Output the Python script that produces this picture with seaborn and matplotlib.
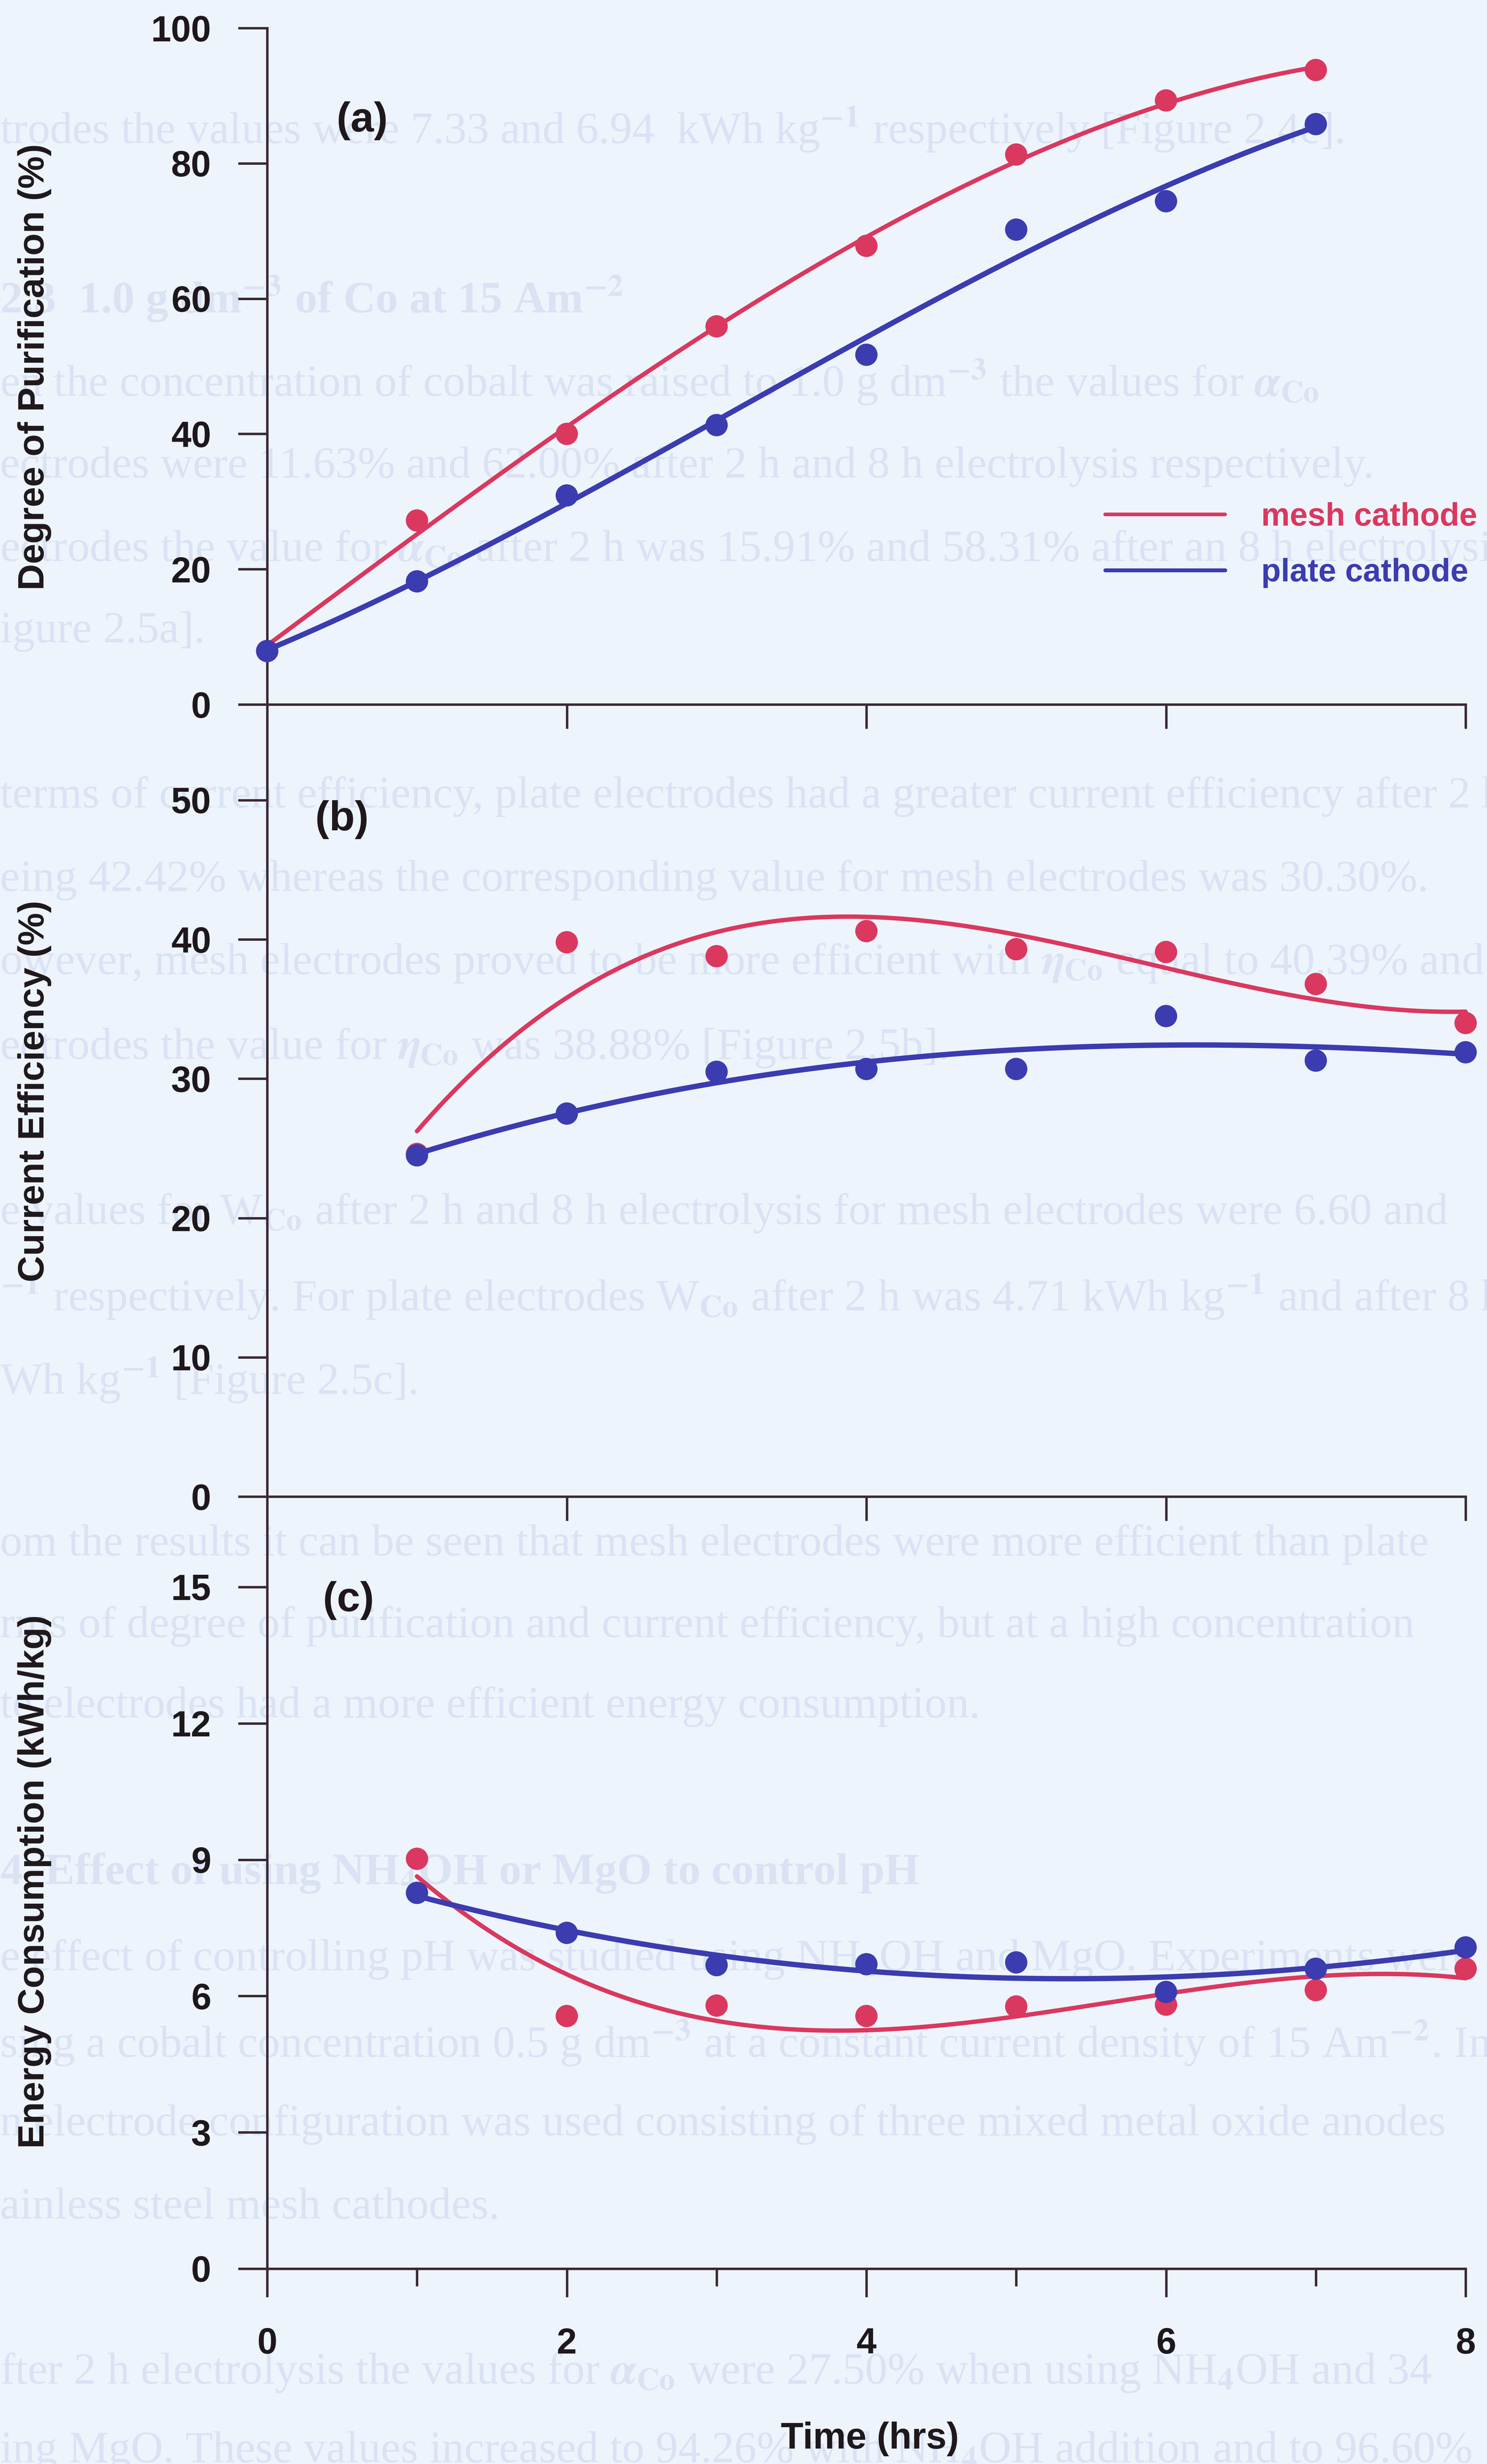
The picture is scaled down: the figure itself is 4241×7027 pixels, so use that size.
import numpy as np
import pandas as pd
import matplotlib
matplotlib.use("Agg")
import matplotlib.pyplot as plt
from matplotlib.lines import Line2D
from matplotlib.ticker import FixedLocator
import seaborn as sns

# ---------------- data ----------------
hours_a = [0, 1, 2, 3, 4, 5, 6, 7]
purification_mesh = [7.9, 27.2, 40.0, 55.9, 67.8, 81.3, 89.3, 93.8]
purification_plate = [7.9, 18.2, 30.9, 41.3, 51.7, 70.2, 74.4, 85.8]

hours_bc = [1, 2, 3, 4, 5, 6, 7, 8]
efficiency_mesh = [24.6, 39.8, 38.8, 40.6, 39.3, 39.1, 36.8, 34.0]
efficiency_plate = [24.5, 27.5, 30.5, 30.7, 30.7, 34.5, 31.3, 31.9]
energy_mesh = [9.02, 5.56, 5.79, 5.56, 5.77, 5.81, 6.13, 6.60]
energy_plate = [8.27, 7.39, 6.68, 6.70, 6.74, 6.09, 6.60, 7.07]

series_labels = ["mesh cathode", "plate cathode"]
time_ticks = [0, 2, 4, 6, 8]
yticks_a = [0, 20, 40, 60, 80, 100]
yticks_b = [0, 10, 20, 30, 40, 50]
yticks_c = [0, 3, 6, 9, 12, 15]

# ---------------- style ----------------
BG = "#EDF4FB"
RED = "#DA385F"
BLUE = "#3B3CB0"
INK = "#1E181C"
SPINE = "#3A2A36"
FAINT = "#DAE2F4"

sns.set_theme(style="ticks")
plt.rcParams["font.family"] = ["Liberation Sans", "DejaVu Sans"]
plt.rcParams["font.weight"] = "bold"
plt.rcParams["mathtext.fontset"] = "stix"

W, H = 4241, 7027
fig = plt.figure(figsize=(W / 100, H / 100), dpi=100, facecolor=BG)

# faint body text of the page behind the figure
page_lines = [
    (82, "trodes the values were 7.33 and 6.94  kWh kg$^{-1}$ respectively [Figure 2.4c].", False),
    (190, "2.3  1.0 g dm$^{-3}$ of Co at 15 Am$^{-2}$", True),
    (243, "en the concentration of cobalt was raised to 1.0 g dm$^{-3}$ the values for $\\alpha_{\\mathrm{Co}}$", False),
    (297, "ectrodes were 11.63% and 62.00% after 2 h and 8 h electrolysis respectively.", False),
    (350, "ectrodes the value for $\\alpha_{\\mathrm{Co}}$ after 2 h was 15.91% and 58.31% after an 8 h electrolysis", False),
    (402, "igure 2.5a].", False),
    (507, "terms of current efficiency, plate electrodes had a greater current efficiency after 2 h", False),
    (560, "eing 42.42% whereas the corresponding value for mesh electrodes was 30.30%.", False),
    (613, "owever, mesh electrodes proved to be more efficient with $\\eta_{\\mathrm{Co}}$ equal to 40.39% and", False),
    (667, "ectrodes the value for $\\eta_{\\mathrm{Co}}$ was 38.88% [Figure 2.5b].", False),
    (772, "e values for W$_{\\mathrm{Co}}$ after 2 h and 8 h electrolysis for mesh electrodes were 6.60 and", False),
    (825, "$^{-1}$ respectively. For plate electrodes W$_{\\mathrm{Co}}$ after 2 h was 4.71 kWh kg$^{-1}$ and after 8 h", False),
    (878, "Wh kg$^{-1}$ [Figure 2.5c].", False),
    (983, "om the results it can be seen that mesh electrodes were more efficient than plate", False),
    (1035, "rms of degree of purification and current efficiency, but at a high concentration", False),
    (1086, "te electrodes had a more efficient energy consumption.", False),
    (1192, "4  Effect of using NH$_4$OH or MgO to control pH", True),
    (1247, "e effect of controlling pH was studied using NH$_4$OH and MgO. Experiments were", False),
    (1300, "sing a cobalt concentration 0.5 g dm$^{-3}$ at a constant current density of 15 Am$^{-2}$. In", False),
    (1352, "n electrode configuration was used consisting of three mixed metal oxide anodes", False),
    (1405, "ainless steel mesh cathodes.", False),
    (1510, "fter 2 h electrolysis the values for $\\alpha_{\\mathrm{Co}}$ were 27.50% when using NH$_4$OH and 34", False),
    (1560, "ing MgO. These values increased to 94.26% with NH$_4$OH addition and to 96.60%", False),
]
for ym, txt, bold in page_lines:
    fig.text(0.0, 1 - ym / 1568, txt, fontsize=92, family="Liberation Serif",
             weight="bold" if bold else "normal", color=FAINT,
             ha="left", va="center", zorder=-5)

# ---------------- axes ----------------
x0, x1 = 762, 4180
left = x0 / W
width = (x1 - x0) / W


def add_panel(top_px, bottom_px):
    ax = fig.add_axes([left, 1 - bottom_px / H, width, (bottom_px - top_px) / H])
    ax.set_facecolor("none")
    return ax


ax_a = add_panel(80, 2282)
ax_b = add_panel(2282, 4526)
ax_c = add_panel(4526, 6470)

ax_a.set_ylim(-14.15, 100)
ax_b.set_ylim(-6.495, 50)
ax_c.set_ylim(0, 15)


def draw_series(ax, x, y, color, order, lw, z):
    coef = np.polyfit(x, y, order)
    xs = np.linspace(min(x), max(x), 300)
    fit = pd.DataFrame({"t": xs, "v": np.polyval(coef, xs)})
    sns.lineplot(data=fit, x="t", y="v", ax=ax, color=color, lw=lw,
                 sort=False, zorder=z, clip_on=False)
    pts = pd.DataFrame({"t": x, "v": y})
    sns.scatterplot(data=pts, x="t", y="v", ax=ax, color=color, s=2100,
                    edgecolor="none", linewidth=0, zorder=z + 1, clip_on=False)


draw_series(ax_a, hours_a, purification_mesh, RED, 3, 9, 3)
draw_series(ax_a, hours_a, purification_plate, BLUE, 3, 11, 5)
draw_series(ax_b, hours_bc, efficiency_mesh, RED, 3, 9, 3)
draw_series(ax_b, hours_bc, efficiency_plate, BLUE, 3, 11, 5)
draw_series(ax_c, hours_bc, energy_mesh, RED, 3, 9, 3)
draw_series(ax_c, hours_bc, energy_plate, BLUE, 3, 11, 5)

for ax, yt in ((ax_a, yticks_a), (ax_b, yticks_b), (ax_c, yticks_c)):
    ax.set_xlim(0, 8)
    for s in ("top", "right"):
        ax.spines[s].set_visible(False)
    for s in ("left", "bottom"):
        ax.spines[s].set_color(SPINE)
        ax.spines[s].set_linewidth(5)
    ax.set_yticks(yt)
    ax.set_yticklabels([str(v) for v in yt])
    ax.set_xticks(time_ticks)
    ax.tick_params(axis="y", direction="out", length=60, width=5, pad=55,
                   labelsize=74, colors=SPINE, labelcolor=INK)
    ax.tick_params(axis="x", direction="out", length=50, width=5, pad=62,
                   labelsize=74, colors=SPINE, labelcolor=INK)
    ax.set_xlabel("")
    ax.set_ylabel("")

for ax in (ax_a, ax_b):
    ax.spines["bottom"].set_position(("data", 0))
    ax.tick_params(axis="x", labelbottom=False)

ax_c.xaxis.set_minor_locator(FixedLocator([1, 3, 5, 7]))
ax_c.tick_params(axis="x", which="minor", direction="out", length=36, width=5,
                 colors=SPINE)
ax_c.tick_params(axis="x", which="major", length=58)
ax_c.set_xticklabels([str(v) for v in time_ticks])

# axis titles
ylabels = [
    (ax_a, "Degree of Purification (%)", 0.561),
    (ax_b, "Current Efficiency (%)", 0.63),
    (ax_c, "Energy Consumption (kWh/kg)", 0.568),
]
for ax, lab, yf in ylabels:
    ax.set_ylabel(lab, fontsize=75, fontweight="bold", color=INK, va="center")
    ax.yaxis.set_label_coords(-0.194, yf)

ax_c.set_xlabel("Time (hrs)", fontsize=76, fontweight="bold", color=INK, va="center")
ax_c.xaxis.set_label_coords(0.503, -0.2495)

# panel tags
ax_a.text(0.634, 86.3, "(a)", fontsize=86, fontweight="bold", color=INK, ha="center", va="center")
ax_b.text(0.50, 48.6, "(b)", fontsize=86, fontweight="bold", color=INK, ha="center", va="center")
ax_c.text(0.543, 14.7, "(c)", fontsize=86, fontweight="bold", color=INK, ha="center", va="center")

# legend
handles = [Line2D([0], [0], color=RED, lw=7.5), Line2D([0], [0], color=BLUE, lw=8)]
ax_a.legend(handles, series_labels, loc="upper left",
            bbox_to_anchor=(3152 / W, 1 - 1432 / H), bbox_transform=fig.transFigure,
            frameon=False, prop={"size": 66, "weight": "bold"},
            labelcolor=[RED, BLUE], borderpad=0, borderaxespad=0,
            handlelength=3.73, handletextpad=1.12, labelspacing=0.8)

fig.savefig("out.png", dpi=100, facecolor=BG)
